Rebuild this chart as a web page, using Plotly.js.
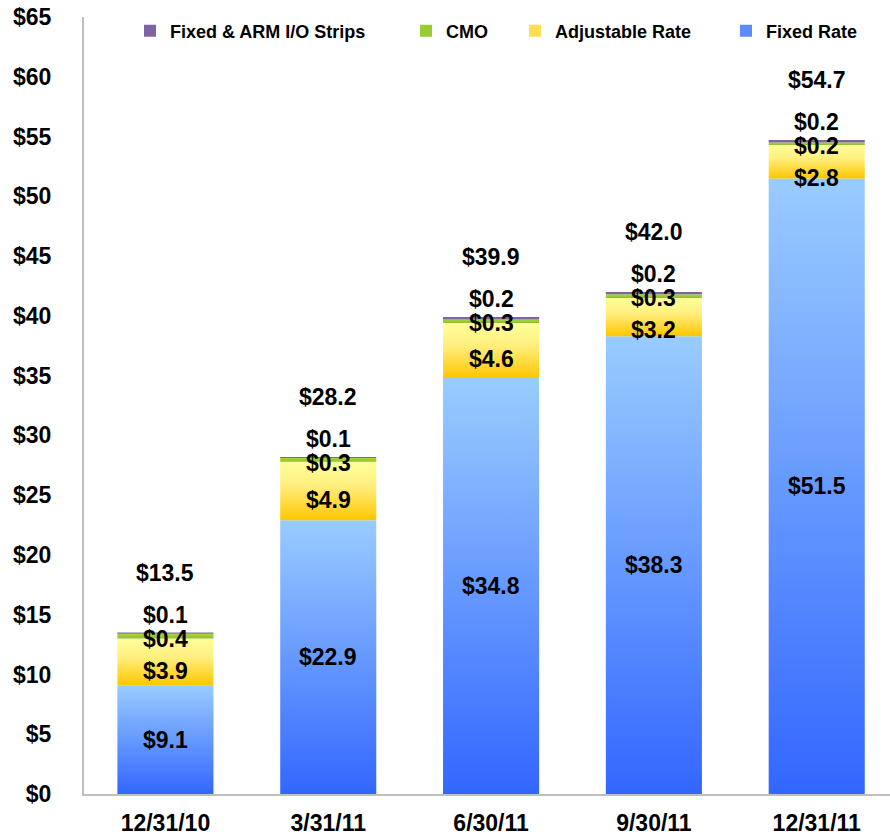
<!DOCTYPE html>
<html>
<head>
<meta charset="utf-8">
<script src="https://cdn.plot.ly/plotly-3.0.1.min.js"></script>
<style>
  body { margin: 0; background: #fff; }
  #chart { width: 890px; height: 838px; }
</style>
</head>
<body>
<div id="chart"></div>
<script>
const categories = ['12/31/10', '3/31/11', '6/30/11', '9/30/11', '12/31/11'];
const fixedRate = [9.1, 22.9, 34.8, 38.3, 51.5];
const adjustableRate = [3.9, 4.9, 4.6, 3.2, 2.8];
const cmo = [0.4, 0.3, 0.3, 0.3, 0.2];
const ioStrips = [0.1, 0.1, 0.2, 0.2, 0.2];
const totals = [13.5, 28.2, 39.9, 42.0, 54.7];

const FONT = 'Liberation Sans, Arial, sans-serif';
const barWidth = 0.59;

// stacking order, bottom to top
const series = [
    { name: 'Fixed Rate', values: fixedRate, legend: 'legend4', swatch: '#5b8cff',
      scale: [[0, '#3366FF'], [1, '#99CCFF']] },
    { name: 'Adjustable Rate', values: adjustableRate, legend: 'legend3', swatch: '#ffdd55',
      scale: [[0, '#FFC600'], [0.6, '#FFEF80'], [1, '#FFFF99']] },
    { name: 'CMO', values: cmo, legend: 'legend2', swatch: '#99CC33',
      scale: [[0, '#8DBF2E'], [1, '#A6D63C']] },
    { name: 'Fixed & ARM I/O Strips', values: ioStrips, legend: 'legend', swatch: '#8064A2',
      scale: [[0, '#8064A2'], [1, '#8064A2']] }
];

const traces = [];
const base = categories.map(() => 0);

series.forEach(s => {
    s.values.forEach((v, i) => {
        const x0 = i - barWidth / 2, x1 = i + barWidth / 2;
        const y0 = base[i], y1 = base[i] + v;
        traces.push({
            x: [x0, x1, x1, x0, x0],
            y: [y0, y0, y1, y1, y0],
            type: 'scatter',
            mode: 'lines',
            line: { width: 0 },
            fill: 'toself',
            fillcolor: s.swatch,
            fillgradient: { type: 'vertical', colorscale: s.scale },
            showlegend: false,
            hoverinfo: 'skip'
        });
        base[i] = y1;
    });
    // legend entry
    traces.push({
        x: [null], y: [null],
        type: 'scatter',
        mode: 'markers',
        name: s.name,
        legend: s.legend,
        marker: { symbol: 'square', size: 12, color: s.swatch },
        showlegend: true
    });
});

// data labels
const annotations = [];
const lbl = (x, y, v) => annotations.push({
    x: x, y: y, text: '$' + v.toFixed(1), showarrow: false,
    xref: 'x', yref: 'y',
    font: { family: FONT, size: 23, color: '#000', weight: 'bold' }
});
categories.forEach((c, i) => {
    lbl(i, fixedRate[i] / 2, fixedRate[i]);
    lbl(i, Math.min(fixedRate[i] + adjustableRate[i] * 0.35, totals[i] - 3.2), adjustableRate[i]);
    lbl(i, totals[i] - 0.5, cmo[i]);
    lbl(i, totals[i] + 1.5, ioStrips[i]);
    lbl(i, totals[i] + 5, totals[i]);
});

const legendBase = {
    orientation: 'h', yanchor: 'middle', y: 0.982, xanchor: 'left',
    bgcolor: 'rgba(0,0,0,0)',
    font: { family: FONT, size: 18, color: '#000', weight: 'bold' }
};
const legendX = px => (px - 84) / 806;

const layout = {
    width: 890, height: 838,
    paper_bgcolor: '#fff', plot_bgcolor: '#fff',
    margin: { l: 84, r: 0, t: 17, b: 44 },
    font: { family: FONT, color: '#000' },
    xaxis: {
        range: [-0.5, 4.45],
        tickvals: categories.map((c, i) => i),
        ticktext: categories,
        showgrid: false, zeroline: false,
        showline: true, linecolor: '#BFBFBF', linewidth: 2,
        ticks: '', ticklabelstandoff: 7,
        tickfont: { family: FONT, size: 23, color: '#000', weight: 'bold' }
    },
    yaxis: {
        range: [0, 65], dtick: 5, tickprefix: '$',
        showgrid: false, zeroline: false,
        showline: true, linecolor: '#BFBFBF', linewidth: 2,
        ticks: '', ticklabelstandoff: 26,
        tickfont: { family: FONT, size: 23, color: '#000', weight: 'bold' }
    },
    legend: { ...legendBase, x: legendX(130) },
    legend2: { ...legendBase, x: legendX(406) },
    legend3: { ...legendBase, x: legendX(515) },
    legend4: { ...legendBase, x: legendX(726) },
    annotations: annotations
};

Plotly.newPlot('chart', traces, layout, { displayModeBar: false });
</script>
</body>
</html>
